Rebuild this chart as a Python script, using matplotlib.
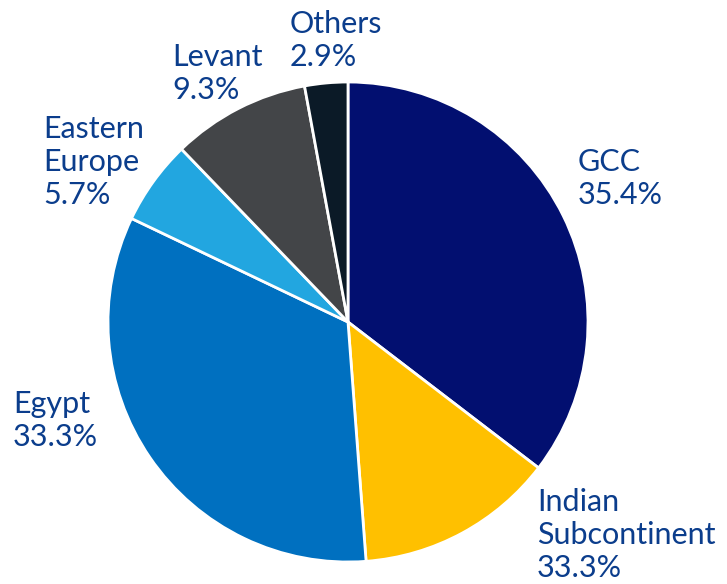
import matplotlib.pyplot as plt

regions = ['GCC', 'Indian\nSubcontinent', 'Egypt', 'Eastern\nEurope', 'Levant', 'Others']
shares = [35.4, 13.4, 33.3, 5.7, 9.3, 2.9]
pct_labels = ['35.4%', '33.3%', '33.3%', '5.7%', '9.3%', '2.9%']
colors = ['#020f70', '#ffc000', '#0070c0', '#22a6e0', '#434548', '#0b1a27']
text_col = '#0b3d8c'

# where each label sits (pixels from top-left)
label_pos = [(578, 148), (537, 488), (13, 390), (43, 115), (172, 43), (290, 10)]

plt.rcParams['font.family'] = ['Lato', 'DejaVu Sans']

fig = plt.figure(figsize=(7.27, 5.84), dpi=100)
ax = fig.add_axes([0, 0, 1, 1])
ax.pie(shares, colors=colors, startangle=90, counterclock=False,
       center=(348, 584 - 322), radius=240,
       wedgeprops=dict(edgecolor='white', linewidth=2))
ax.set_xlim(0, 727)
ax.set_ylim(0, 584)
ax.set_aspect('equal')
ax.axis('off')

for name, pct, (x, y) in zip(regions, pct_labels, label_pos):
    ax.text(x, 584 - y, name + '\n' + pct, color=text_col, fontsize=22,
            ha='left', va='top', linespacing=1.22)

fig.savefig('out.png', dpi=100)
